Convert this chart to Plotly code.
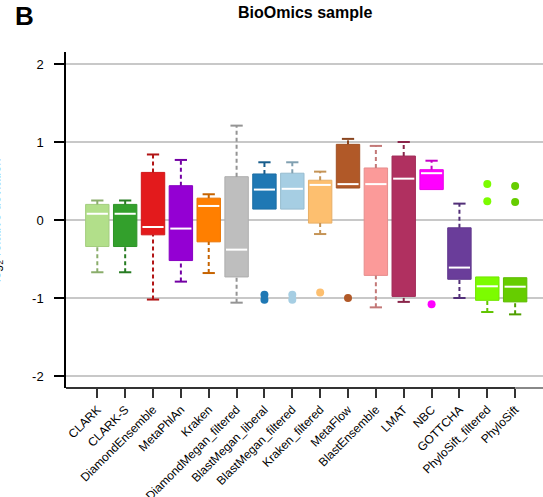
import plotly.graph_objects as go

# Per-method summary statistics (log2 relative deviation)
methods = ["CLARK", "CLARK-S", "DiamondEnsemble", "MetaPhlAn", "Kraken",
           "DiamondMegan_filtered", "BlastMegan_liberal", "BlastMegan_filtered",
           "Kraken_filtered", "MetaFlow", "BlastEnsemble", "LMAT", "NBC",
           "GOTTCHA", "PhyloSift_filtered", "PhyloSift"]
q1 = [-0.34, -0.34, -0.19, -0.52, -0.28, -0.73, 0.14, 0.14,
      -0.04, 0.41, -0.71, -0.98, 0.39, -0.76, -1.03, -1.05]
median = [0.08, 0.08, -0.09, -0.11, 0.18, -0.38, 0.39, 0.40,
          0.45, 0.46, 0.46, 0.53, 0.60, -0.61, -0.85, -0.855]
q3 = [0.20, 0.20, 0.61, 0.44, 0.28, 0.555, 0.59, 0.60,
      0.51, 0.97, 0.667, 0.82, 0.645, -0.10, -0.73, -0.74]
lower = [-0.67, -0.67, -1.02, -0.79, -0.68, -1.06, 0.14, 0.14,
         -0.18, 0.41, -1.12, -1.05, 0.39, -1.00, -1.18, -1.21]
upper = [0.25, 0.25, 0.84, 0.77, 0.33, 1.21, 0.74, 0.74,
         0.62, 1.04, 0.95, 1.00, 0.76, 0.21, -0.73, -0.74]
outliers = [[], [], [], [], [], [], [-0.958, -1.022], [-0.958, -1.022],
            [-0.93], [-1.00], [], [], [-1.08], [], [0.46, 0.24], [0.436, 0.23]]
colors = ["#b2df8a", "#33a02c", "#e31a1c", "#9400d3", "#ff7f00", "#bebebe",
          "#1f78b4", "#a6cee3", "#fdbf6f", "#b15928", "#fb9a99", "#b03060",
          "#ff00ff", "#6a3d9a", "#7cfc00", "#66cd00"]
y_ticks = [-2, -1, 0, 1, 2]
y_tick_text = ["-2", "-1", "0", "1", "2"]


def darker(hex_color, f=0.78):
    h = hex_color.lstrip("#")
    r, g, b = (int(h[i:i + 2], 16) for i in (0, 2, 4))
    return "rgb({},{},{})".format(int(r * f), int(g * f), int(b * f))


x_idx = list(range(len(methods)))
box_w = 0.84
cap_hw = 0.22
med_hw = 0.38

fig = go.Figure()

# whiskers (dashed) and caps
for i in x_idx:
    wc = darker(colors[i])
    xs, ys = [], []
    if upper[i] > q3[i]:
        xs += [i, i, None]
        ys += [q3[i], upper[i], None]
    if lower[i] < q1[i]:
        xs += [i, i, None]
        ys += [lower[i], q1[i], None]
    if xs:
        fig.add_trace(go.Scatter(x=xs, y=ys, mode="lines",
                                 line=dict(color=wc, width=2, dash="4px,3px"),
                                 hoverinfo="skip", showlegend=False))
    cx, cy = [], []
    if upper[i] > q3[i]:
        cx += [i - cap_hw, i + cap_hw, None]
        cy += [upper[i], upper[i], None]
    if lower[i] < q1[i]:
        cx += [i - cap_hw, i + cap_hw, None]
        cy += [lower[i], lower[i], None]
    if cx:
        fig.add_trace(go.Scatter(x=cx, y=cy, mode="lines",
                                 line=dict(color=wc, width=2),
                                 hoverinfo="skip", showlegend=False))

# boxes
fig.add_trace(go.Bar(
    x=x_idx, y=[b - a for a, b in zip(q1, q3)], base=q1, width=box_w,
    marker=dict(color=colors, line=dict(color=[darker(c, 0.92) for c in colors], width=1)),
    showlegend=False, hoverinfo="skip"))

# medians
mx, my = [], []
for i in x_idx:
    mx += [i - med_hw, i + med_hw, None]
    my += [median[i], median[i], None]
fig.add_trace(go.Scatter(x=mx, y=my, mode="lines",
                         line=dict(color="white", width=2),
                         hoverinfo="skip", showlegend=False))

# outliers
for i in x_idx:
    if outliers[i]:
        fig.add_trace(go.Scatter(
            x=[i] * len(outliers[i]), y=outliers[i], mode="markers",
            marker=dict(color=colors[i], size=8, line=dict(width=0)),
            hoverinfo="skip", showlegend=False))

x_lo, x_hi = -1.124, 16.0
y_lo, y_hi = -2.154, 2.154

fig.update_layout(
    width=543, height=497,
    margin=dict(l=66, r=0, t=52, b=109),
    paper_bgcolor="white", plot_bgcolor="white",
    font=dict(family="Liberation Sans, Arial, sans-serif", color="black"),
    barmode="overlay",
    xaxis=dict(range=[x_lo, x_hi], tickvals=x_idx, ticktext=methods,
               tickangle=-45, tickfont=dict(size=12), showgrid=False,
               zeroline=False, showline=False, ticks="outside", ticklen=9,
               tickwidth=1.5, tickcolor="#333", automargin=False),
    yaxis=dict(range=[y_lo, y_hi], tickvals=y_ticks, ticktext=y_tick_text,
               tickfont=dict(size=13), showgrid=True, gridcolor="#c8c8c8",
               gridwidth=1.5, zeroline=False, showline=True, linecolor="black",
               linewidth=1.5, ticks="outside", ticklen=10, tickwidth=1.5,
               tickcolor="black", ticklabelstandoff=8, automargin=False),
    shapes=[
        dict(type="line", xref="x", yref="paper", x0=x_lo, x1=15, y0=0, y1=0,
             line=dict(color="#333", width=2)),
        dict(type="line", xref="x", yref="paper", x0=15, x1=x_hi, y0=0, y1=0,
             line=dict(color="#888", width=2)),
    ],
    annotations=[
        dict(text="<b>BioOmics sample</b>", xref="paper", yref="paper",
             x=0.5, y=1, yshift=40, showarrow=False, font=dict(size=16),
             xanchor="center", yanchor="middle"),
        dict(text="<b>B</b>", xref="paper", yref="paper", x=0, y=1,
             xshift=-42, yshift=36, showarrow=False, font=dict(size=26),
             xanchor="center", yanchor="middle"),
        dict(text="log<sub>2</sub> relative deviation", xref="paper", yref="paper",
             x=0, y=0.5, xshift=-70, showarrow=False, textangle=-90,
             font=dict(size=13, color="black"), xanchor="center", yanchor="middle"),
    ],
)

fig.write_html("out.html")
